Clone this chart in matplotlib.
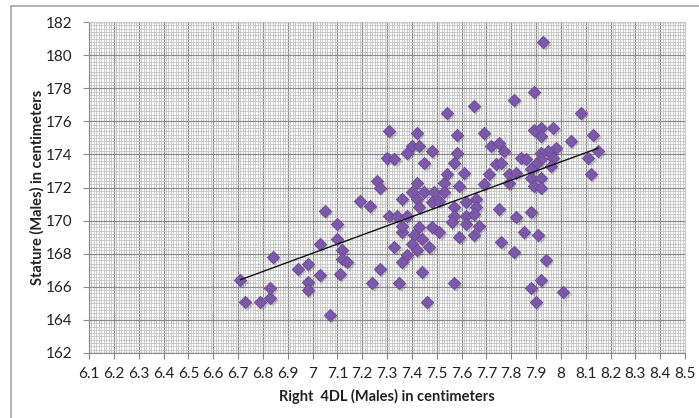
import numpy as np
import matplotlib
matplotlib.use("Agg")
import matplotlib.pyplot as plt
from matplotlib.patches import Rectangle
from matplotlib.ticker import MultipleLocator, FuncFormatter

# Right 4DL (cm) and stature (cm), males
digit_len = [
    6.71, 6.73, 6.79, 6.83, 6.83, 6.84, 6.94, 6.98, 6.98, 6.98,
    7.03, 7.03, 7.05, 7.07, 7.10, 7.10, 7.12, 7.12, 7.14, 7.11,
    7.19, 7.23, 7.24, 7.27, 7.26, 7.27, 7.30, 7.33, 7.31, 7.31,
    7.33, 7.35, 7.36, 7.36, 7.41, 7.44, 7.51, 7.40, 7.42, 7.47,
    7.38, 7.44, 7.46, 7.57, 7.59, 7.65,
    7.54, 7.65, 7.42, 7.58, 7.69, 7.40, 7.43, 7.38, 7.48, 7.58,
    7.93, 7.89, 7.81, 8.08, 7.89, 7.92, 7.97, 7.92, 8.04, 8.13,
    7.72, 7.75, 7.77, 7.98, 7.95, 7.92, 8.15, 8.11, 7.84, 7.86,
    7.97, 7.92,
    7.45, 7.57, 7.74, 7.76, 7.54, 7.61, 7.71, 7.79, 7.82, 7.42,
    7.53, 7.59, 7.69, 7.79, 7.40, 7.45, 7.49, 7.53, 7.36, 7.42,
    7.48, 7.51, 7.62, 7.66, 7.57, 7.66, 7.75, 7.43, 7.57, 7.62,
    7.65, 7.34, 7.38, 7.56, 7.62, 7.67, 7.36, 7.43, 7.48, 7.82,
    7.90, 7.96, 7.88, 7.88, 7.92, 8.12, 7.89, 7.92, 7.88,
    7.85, 7.91, 7.76, 7.81, 7.94, 7.92, 7.88, 7.90, 8.01,
]
stature = [
    166.4, 165.1, 165.1, 165.3, 165.9, 167.8, 167.1, 167.4, 166.3, 165.8,
    166.7, 168.6, 170.6, 164.3, 169.8, 168.9, 168.2, 167.7, 167.5, 166.8,
    171.2, 170.9, 166.2, 167.1, 172.4, 172.0, 173.8, 173.7, 175.4, 170.3,
    168.4, 166.2, 167.5, 169.3, 169.1, 168.9, 169.3, 168.6, 168.2, 168.4,
    167.9, 166.9, 165.1, 166.2, 169.0, 169.1,
    176.5, 176.9, 175.3, 175.2, 175.3, 174.5, 174.5, 174.1, 174.2, 174.1,
    180.8, 177.8, 177.3, 176.5, 175.5, 175.6, 175.6, 175.1, 174.8, 175.2,
    174.5, 174.7, 174.2, 174.4, 174.2, 174.1, 174.2, 173.8, 173.8, 173.7,
    173.8, 173.7,
    173.5, 173.5, 173.4, 173.5, 172.8, 172.9, 172.8, 172.8, 172.9, 172.3,
    172.3, 172.1, 172.2, 172.3, 171.7, 171.7, 171.7, 171.7, 171.3, 171.3,
    171.1, 171.2, 171.1, 171.3, 170.8, 170.8, 170.7, 170.8, 170.3, 170.3,
    170.4, 170.3, 170.3, 169.9, 169.8, 169.7, 169.7, 169.6, 169.6, 170.2,
    173.4, 173.3, 173.1, 172.6, 172.6, 172.8, 172.1, 172.0, 170.5,
    169.3, 169.1, 168.7, 168.1, 167.6, 166.4, 165.9, 165.1, 165.7,
]

x = np.array(digit_len)
y = np.array(stature)

fig = plt.figure(figsize=(6.99, 4.18), dpi=100)
fig.patch.set_facecolor("white")

# outer chart frame (runs past right / bottom of the image)
fig.add_artist(Rectangle((11 / 699, -0.2), 1.2, 1.2 - 6 / 418,
                         transform=fig.transFigure, fill=False,
                         edgecolor="#a6a6a6", linewidth=1.2))

ax = fig.add_axes([89 / 699, 1 - 353 / 418, (685 - 89) / 699, (353 - 22) / 418])
ax.set_xlim(6.1, 8.5)
ax.set_ylim(162, 182)

ax.xaxis.set_major_locator(MultipleLocator(0.1))
ax.xaxis.set_minor_locator(MultipleLocator(0.01))
ax.yaxis.set_major_locator(MultipleLocator(2))
ax.yaxis.set_minor_locator(MultipleLocator(0.2))
ax.xaxis.set_major_formatter(FuncFormatter(lambda v, p: f"{round(v, 1):g}"))

ax.grid(which="minor", color="#c4c4c4", linewidth=0.6)
ax.grid(which="major", color="#8a8a8a", linewidth=0.9)
ax.set_axisbelow(True)

for side in ["top", "right"]:
    ax.spines[side].set_color("#c8c8c8")
for side in ["left", "bottom"]:
    ax.spines[side].set_color("#8a8a8a")

ax.tick_params(which="major", direction="out", length=4, color="#8a8a8a",
               labelsize=11, labelcolor="#222222")
ax.tick_params(axis="x", which="major", pad=6)
ax.tick_params(axis="y", which="major", pad=8)
ax.tick_params(which="minor", length=0)
for lab in ax.get_xticklabels() + ax.get_yticklabels():
    lab.set_family(["Lato", "DejaVu Sans"])

# shadow then markers
ax.scatter(x + 0.006, y - 0.12, marker="D", s=42, color="#000000", alpha=0.18,
           linewidths=0, zorder=3)
ax.scatter(x, y, marker="D", s=40, color="#7b58a8", edgecolors="#6a4799",
           linewidths=0.6, zorder=4)

# linear trendline
k, b = np.polyfit(x, y, 1)
xs = np.array([x.min(), x.max()])
ax.plot(xs, k * xs + b, color="#111111", linewidth=1.0, zorder=5)

ax.set_xlabel("Right  4DL (Males) in centimeters", fontsize=10.5, fontweight="bold",
              family=["Lato", "DejaVu Sans"], color="#222222")
ax.set_ylabel("Stature (Males) in centimeters", fontsize=10.5, fontweight="bold",
              family=["Lato", "DejaVu Sans"], color="#222222")
ax.xaxis.set_label_coords(0.5, -0.108)
ax.yaxis.set_label_coords(-0.074, 0.5)

fig.savefig("out.png", dpi=100)
